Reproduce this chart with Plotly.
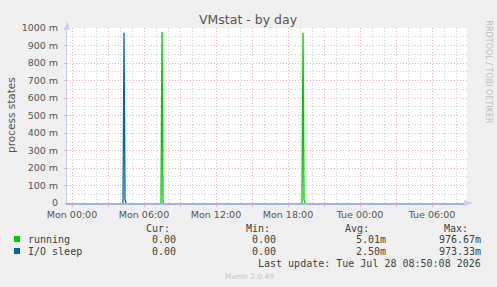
import plotly.graph_objects as go

# ---- data ----
running_times = ["2026-07-27 07:25", "2026-07-27 07:30", "2026-07-27 07:35", "2026-07-27 07:40",
                 "2026-07-27 13:00",
                 "2026-07-27 19:10", "2026-07-27 19:15", "2026-07-27 19:20", "2026-07-27 19:25"]
running_vals = [0.0, 0.97667, 0.0, 0.0, None, 0.0, 0.97333, 0.02, 0.0]
iosleep_times = ["2026-07-27 04:15", "2026-07-27 04:20", "2026-07-27 04:25", "2026-07-27 04:30"]
iosleep_vals = [0.0, 0.97333, 0.02, 0.0]

x_tick_vals = ["2026-07-27 00:00", "2026-07-27 03:00", "2026-07-27 06:00", "2026-07-27 09:00",
               "2026-07-27 12:00", "2026-07-27 15:00", "2026-07-27 18:00", "2026-07-27 21:00",
               "2026-07-28 00:00", "2026-07-28 03:00", "2026-07-28 06:00"]
x_tick_text = ["Mon 00:00", "", "Mon 06:00", "", "Mon 12:00", "", "Mon 18:00", "",
               "Tue 00:00", "", "Tue 06:00"]
y_tick_vals = [0, 0.1, 0.2, 0.3, 0.4, 0.5, 0.6, 0.7, 0.8, 0.9, 1.0]
y_tick_text = ["0", "100 m", "200 m", "300 m", "400 m", "500 m", "600 m", "700 m", "800 m", "900 m", "1000 m"]

legend_names = ["running", "I/O sleep"]
legend_colors = ["#00CC00", "#0066B3"]
cur_vals = ["0.00", "0.00"]
min_vals = ["0.00", "0.00"]
avg_vals = ["5.01m", "2.50m"]
max_vals = ["976.67m", "973.33m"]

W, H = 497, 287
L, R, T, B = 67, 30, 28, 84
PW, PH = W - L - R, H - T - B


def px(x):
    return (x - L) / PW


def py(y):
    return (T + PH - y) / PH


fig = go.Figure()
fig.add_trace(go.Scatter(x=running_times, y=running_vals, mode="lines", connectgaps=False,
                         line=dict(color=legend_colors[0], width=1.3), showlegend=False))
fig.add_trace(go.Scatter(x=iosleep_times, y=iosleep_vals, mode="lines",
                         line=dict(color=legend_colors[1], width=1.3), showlegend=False))

axis_col = "#A8B0E8"
major_col = "#EBB4B4"
minor_col = "#D0D0D0"
dotdash = "1px,2px"
fig.update_layout(
    width=W, height=H,
    margin=dict(l=L, r=R, t=T, b=B),
    paper_bgcolor="#F0F0F0", plot_bgcolor="#FFFFFF",
    font=dict(family="DejaVu Sans", color="#555555"),
    showlegend=False,
    xaxis=dict(type="date", range=["2026-07-26 23:35", "2026-07-28 08:55"],
               tickmode="array", tickvals=x_tick_vals, ticktext=x_tick_text,
               showgrid=True, gridcolor=major_col, griddash=dotdash, gridwidth=1,
               minor=dict(dtick=3600000, tick0="2026-07-27 00:00", showgrid=True,
                          gridcolor=minor_col, griddash=dotdash, gridwidth=1),
               ticks="outside", ticklen=2, tickcolor=major_col,
               tickfont=dict(size=9.5, color="#555555"),
               showline=True, linecolor=axis_col, linewidth=1.5, zeroline=False,
               fixedrange=True),
    yaxis=dict(range=[0, 1.0], tickmode="array", tickvals=y_tick_vals, ticktext=y_tick_text,
               showgrid=True, gridcolor=major_col, griddash=dotdash, gridwidth=1,
               minor=dict(dtick=0.05, tick0=0, showgrid=True, gridcolor=minor_col,
                          griddash=dotdash, gridwidth=1),
               ticks="outside", ticklen=2, tickcolor=major_col, ticklabelstandoff=4,
               tickfont=dict(size=9.5, color="#555555"),
               showline=True, linecolor="#C8CCF0", linewidth=1, zeroline=False,
               fixedrange=True),
)

# axis arrows
fig.add_shape(type="path", xref="paper", yref="paper",
              path=f"M {px(464)} {py(200)} L {px(473)} {py(203)} L {px(464)} {py(206)} Z",
              fillcolor="#C8D0F8", line=dict(width=0))
fig.add_shape(type="path", xref="paper", yref="paper",
              path=f"M {px(64)} {py(30)} L {px(67)} {py(21)} L {px(70)} {py(30)} Z",
              fillcolor="#C8D0F8", line=dict(width=0))

ann = []
ann.append(dict(text="VMstat - by day", x=px(248), y=py(19), xanchor="center", yanchor="middle",
                font=dict(size=12.5, color="#555555", family="DejaVu Sans")))
ann.append(dict(text="process states", x=px(11), y=py(115), xanchor="center", yanchor="middle",
                textangle=-90, font=dict(size=10.5, color="#555555", family="DejaVu Sans")))
ann.append(dict(text="RRDTOOL / TOBI OETIKER", x=px(488), y=py(18), xanchor="center", yanchor="top",
                textangle=90, font=dict(size=8, color="#BDBDBD", family="DejaVu Sans")))

mono = "DejaVu Sans Mono"
tc = "#404040"
for label, xr in [("Cur:", 172), ("Min:", 272), ("Avg:", 371), ("Max:", 470)]:
    ann.append(dict(text=label, x=px(xr), y=py(228), xanchor="right", yanchor="middle",
                    font=dict(size=10, family=mono, color=tc)))
rows_y = [239, 251]
for i in range(2):
    yy = rows_y[i]
    ann.append(dict(text=legend_names[i], x=px(26), y=py(yy), xanchor="left", yanchor="middle",
                    font=dict(size=10, family=mono, color=tc)))
    for vals, xr in [(cur_vals, 178), (min_vals, 278), (avg_vals, 388), (max_vals, 483)]:
        ann.append(dict(text=vals[i], x=px(xr), y=py(yy), xanchor="right", yanchor="middle",
                        font=dict(size=10, family=mono, color=tc)))
    fig.add_shape(type="rect", xref="paper", yref="paper",
                  x0=px(14), x1=px(20), y0=py(yy + 3), y1=py(yy - 3),
                  fillcolor=legend_colors[i], line=dict(width=0))
ann.append(dict(text="Last update: Tue Jul 28 08:50:08 2026", x=px(483), y=py(263),
                xanchor="right", yanchor="middle", font=dict(size=10, family=mono, color=tc)))
ann.append(dict(text="Munin 2.0.49", x=px(249), y=py(276), xanchor="center", yanchor="middle",
                font=dict(size=7.5, family="DejaVu Sans", color="#C4C4C4")))

for a in ann:
    a.update(xref="paper", yref="paper", showarrow=False)
fig.update_layout(annotations=ann)

fig.write_html("out.html")
